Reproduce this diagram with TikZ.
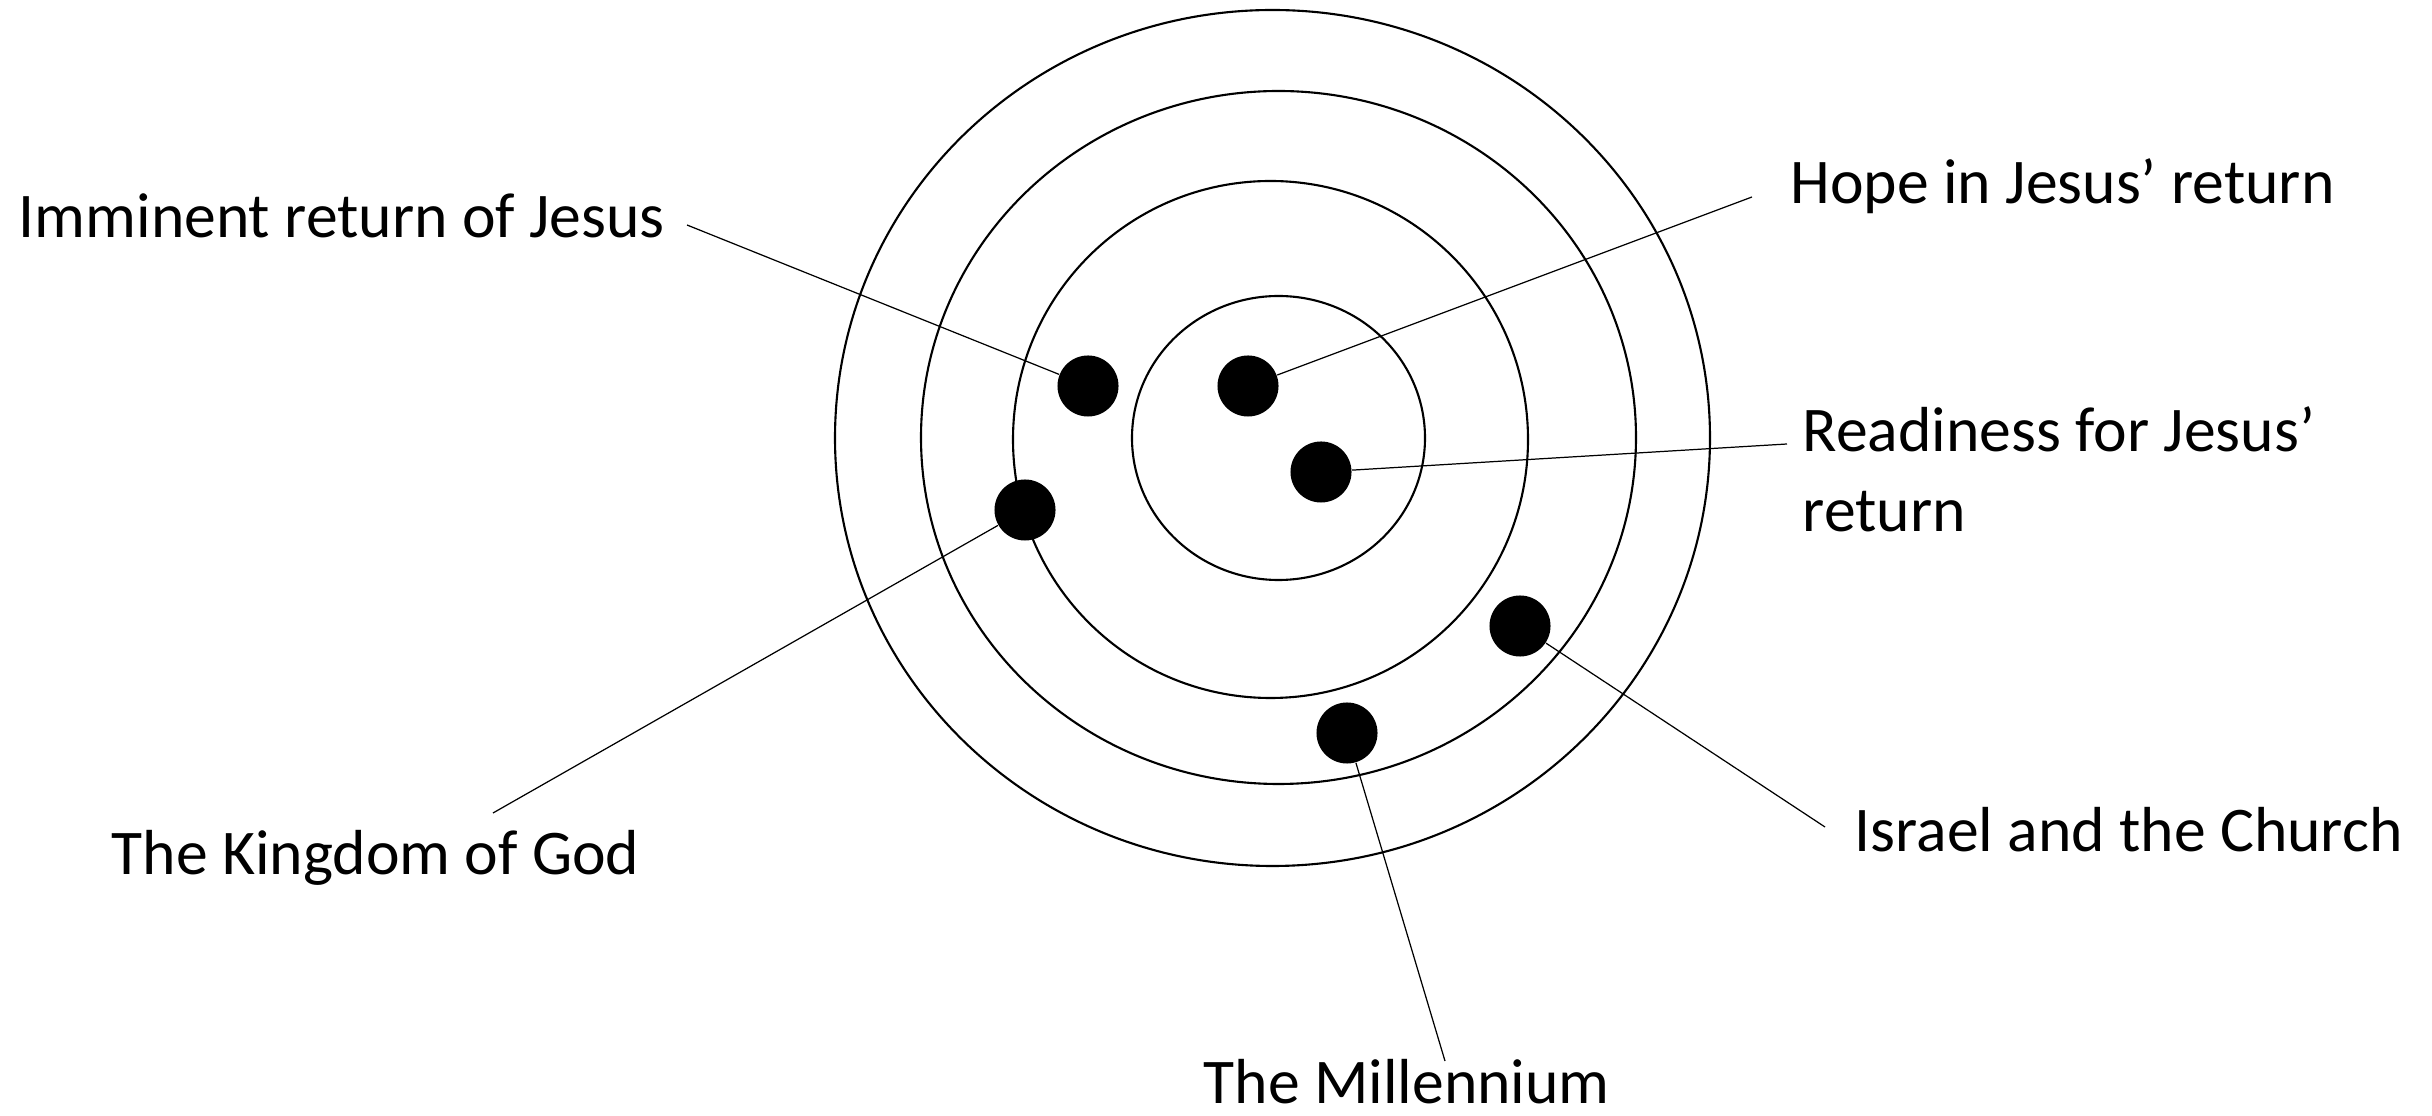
\documentclass[tikz,border=0pt]{standalone}
\usepackage{fontspec}
\setmainfont{Carlito}
\begin{document}
\begin{tikzpicture}[x=0.01cm, y=-0.01cm, ring/.style={line width=0.6pt}]
  \tikzset{dot/.style={circle, fill=black, minimum size=0.61cm, inner sep=0pt}}
  \tikzset{lead/.style={line width=0.35pt}}
  \tikzset{lbl/.style={anchor=base west, inner sep=0pt, font=\fontsize{18.1}{22.8}\selectfont}}
  \useasboundingbox (0,0) rectangle (2432,1116);
  % rings
  \draw[ring] (1272.5,438) ellipse [x radius=437.5, y radius=428];
  \draw[ring] (1278.5,437.5) ellipse [x radius=357.5, y radius=346.5];
  \draw[ring] (1270.5,439.5) ellipse [x radius=257.5, y radius=258.5];
  \draw[ring] (1278.5,438) ellipse [x radius=146.5, y radius=142];
  % dots
  \node[dot] (imm) at (1088,386) {};
  \node[dot] (hope) at (1248,386) {};
  \node[dot] (ready) at (1321,472) {};
  \node[dot] (king) at (1025,510) {};
  \node[dot] (isr) at (1520,626) {};
  \node[dot] (mill) at (1347,733) {};
  % leader ends
  \coordinate (imm-end) at (687,225);
  \coordinate (hope-end) at (1752,197);
  \coordinate (ready-end) at (1787,444);
  \coordinate (king-end) at (493,813);
  \coordinate (isr-end) at (1825,827);
  \coordinate (mill-end) at (1445,1061);
  % leaders
  \draw[lead] (imm) -- (imm-end);
  \draw[lead] (hope) -- (hope-end);
  \draw[lead] (ready) -- (ready-end);
  \draw[lead] (king) -- (king-end);
  \draw[lead] (isr) -- (isr-end);
  \draw[lead] (mill) -- (mill-end);
  % labels
  \node[lbl] (imm-txt) at (18,238) {Imminent return of Jesus};
  \node[lbl] (hope-txt) at (1790,204) {Hope in Jesus’ return};
  \node[lbl, align=left] (ready-txt) at (1802,532) {Readiness for Jesus’\\return};
  \node[lbl] (king-txt) at (111,875) {The Kingdom of God};
  \node[lbl] (isr-txt) at (1854,852) {Israel and the Church};
  \node[lbl] (mill-txt) at (1203,1104) {The Millennium};
\end{tikzpicture}
\end{document}
